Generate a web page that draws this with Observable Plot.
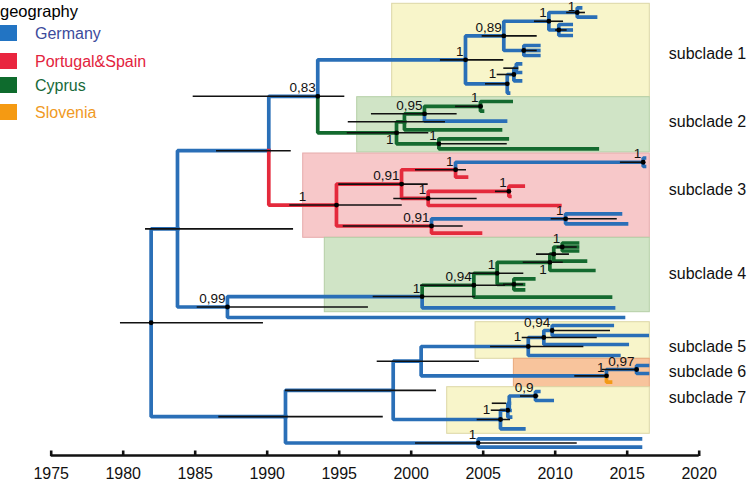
<!DOCTYPE html>
<html><head><meta charset="utf-8">
<script src="https://cdn.jsdelivr.net/npm/d3@7"></script>
<script src="https://cdn.jsdelivr.net/npm/@observablehq/plot@0.6"></script>
<style>
body{margin:0;background:#fff;font-family:"Liberation Sans",Arial,Helvetica,sans-serif;}
#wrap{position:relative;width:750px;height:482px;overflow:hidden;}
#legend{position:absolute;left:0;top:0;width:200px;height:130px;}
#legend .t{position:absolute;font-size:16.5px;color:#000;line-height:1;}
#legend .sw{position:absolute;width:17px;height:16px;}
#legend .lb{position:absolute;font-size:16px;line-height:1;}
</style></head><body>
<div id="wrap"><div id="chart"></div><div id="legend"></div></div>
<script>
// ---- data: [id, parent, year, row (tips), geography, hpdLow, hpdHigh, posterior, labelPos, dot]
const backbone = [
 ["root",null,1981.94,null,null,1979.81,1989.74,"","",1],
 ["A","root",1983.77,null,"G",1981.55,1991.83,"","",0],
 ["A1","A",1990.11,null,"G",1986.48,1991.67,"","",0],
 ["N083","A1",1993.51,null,"G",1984.86,1995.39,"0,83","a",1],
 ["N099","A",1987.24,null,"G",1985.14,1997.03,"0,99","a",1],
 ["t099","N099",2014.74,317,"G"],
 ["B","root",1991.27,null,"G",1986.64,1998.06,"","",0],
 ["B1","B",1998.75,null,"G",1991.27,2001.76,"","",0],
 ["B2","B1",2000.69,null,"G",1997.64,2004.74,"","",0],
 ["Nb","B",2004.65,null,"G",2000.30,2011.53,"1","a",1],
 ["tb1","Nb",2015.92,438.3,"G"],
 ["tb2","Nb",2015.92,446.7,"G"]
];
const clade1 = [
 ["S1","N083",2003.77,null,"G",2002.03,2006.43,"1","a",1],
 ["N089","S1",2006.43,null,"G",2004.93,2008.75,"0,89","a",1],
 ["N1a","N089",2009.56,null,"G",2008.56,2010.58,"1","a",1],
 ["N1c","N1a",2011.53,null,"G",2010.8,2012.1,"1","c",1],
 ["t1","N1c",2011.76,7.3,"G"],["t2","N1c",2012.80,16.7,"G"],
 ["N1d","N1a",2010.25,null,"G",2010.02,2010.83,"","",1],
 ["t3","N1d",2011.11,24,"G"],["t4","N1d",2011.11,29.5,"G"],["t5","N1d",2011.11,35,"G"],
 ["N1b","N089",2007.82,null,"G",2007.71,2008.75,"","",1],
 ["t6","N1b",2008.86,45,"G"],["t7","N1b",2008.86,50,"G"],["t8","N1b",2008.86,55,"G"],
 ["N1L","S1",2006.67,null,"G",2005.16,2006.78,"","",1],
 ["N1e","N1L",2007.13,null,"G",2005.97,2007.24,"1","l",1],
 ["N1f","N1e",2007.3,null,"G",2006.43,2007.47,"","",0],
 ["t9","N1f",2007.59,63.3,"G"],["t10","N1f",2007.59,72,"G"],
 ["t11","N1e",2007.59,80.3,"G"],
 ["t12","N1L",2006.76,92.6,"G"]
];
const clade2 = [
 ["S2","N083",1998.98,null,"C",1995.56,2001.22,"1","b",1],
 ["N2a","S2",1999.53,null,"C",1995.63,2002.38,"","",0],
 ["N095","N2a",2000.92,null,"C",1997.24,2003.19,"0,95","a",1],
 ["N2c","N095",2004.81,null,"C",2003.08,2005.0,"1","a",1],
 ["t13","N2c",2006.94,101,"C"],["t14","N2c",2004.95,110.7,"C"],
 ["t15","N095",2006.55,120.7,"G"],
 ["t16","N2a",2006.2,129.3,"C"],
 ["N2b","S2",2001.92,null,"C",2001.92,2006.67,"1","a",1],
 ["t17","N2b",2006.67,138.3,"C"],["t18","N2b",2012.92,148.3,"C"]
];
const clade3 = [
 ["S3","A1",1994.81,null,"P",1991.57,1999.38,"1","m",1],
 ["N091a","S3",1999.33,null,"P",1994.97,2001.18,"0,91","a",1],
 ["N3a","N091a",2003.08,null,"P",2000.30,2003.84,"1","a",1],
 ["N3c","N3a",2016.11,null,"G",2014.53,2016.04,"1","a",1],
 ["t19","N3c",2016.2,157.5,"G"],["t20","N3c",2016.2,166,"G"],
 ["t21","N3a",2003.84,176.7,"P"],
 ["N3b","N091a",2001.18,null,"P",1998.79,2004.58,"1","a",1],
 ["N3d","N3b",2006.78,null,"P",2005.85,2006.90,"1","a",1],
 ["t22","N3d",2007.78,185.7,"P"],["t23","N3d",2006.85,196,"P"],
 ["t24","N3b",2010.32,205,"P"],
 ["N091b","S3",2001.41,null,"P",1995.28,2003.61,"0,91","a",1],
 ["N3e","N091b",2010.72,null,"G",2009.72,2014.31,"1","a",1],
 ["t25","N3e",2014.53,213.3,"G"],["t26","N3e",2014.95,223.3,"G"],
 ["t27","N091b",2004.81,232.7,"P"]
];
const clade4 = [
 ["S4","N099",2000.76,null,"G",1997.36,2004.47,"1","a",1],
 ["N094b","S4",2004.35,null,"C",2000.65,2006.55,"0,94","a",1],
 ["N4d","N094b",2005.97,null,"C",2004.12,2007.82,"1","a",1],
 ["N4a","N4d",2009.63,null,"C",2007.78,2010.56,"1","b",1],
 ["N4b","N4a",2009.90,null,"C",2008.70,2010.99,"","",1],
 ["N4c","N4b",2010.49,null,"C",2010.14,2011.53,"1","a",1],
 ["t28","N4c",2011.55,242.5,"C"],["t29","N4c",2011.55,246.5,"C"],["t30","N4c",2011.55,250.5,"C"],
 ["t31","N4b",2012.10,260.7,"C"],
 ["t32","N4a",2012.68,270,"C"],
 ["N4e","N4d",2007.13,null,"C",2006.41,2007.80,"","",1],
 ["t33","N4e",2008.51,278.3,"C"],["t34","N4e",2007.80,284,"C"],["t35","N4e",2007.80,289.3,"C"],
 ["t36","N094b",2013.84,296.7,"C"],
 ["t37","S4",2014.05,307.3,"G"]
];
const clade567 = [
 ["S5","B2",2008.13,null,"G",2005.51,2011.99,"","",1],
 ["N5a","S5",2009.21,null,"G",2007.71,2012.92,"1","l",1],
 ["N5b","N5a",2009.79,null,"G",2009.74,2013.84,"0,94","a",1],
 ["t38","N5b",2013.96,325,"G"],["t39","N5b",2016.39,335,"G"],
 ["t40","N5a",2015.0,344,"G"],
 ["t41","S5",2014.42,355,"G"],
 ["S6","B2",2013.56,null,"G",2011.36,2013.61,"1","a",1],
 ["N097","S6",2015.65,null,"G",2013.26,2015.69,"0,97","a",1],
 ["t42","N097",2016.41,365,"G"],["t43","N097",2016.41,373,"G"],
 ["t44","S6",2013.84,381.7,"S"],
 ["S7","B1",2006.20,null,"G",2004.58,2006.90,"","",1],
 ["S7a","S7",2006.71,null,"G",2005.56,2006.55,"1","l",1],
 ["S7b","S7a",2006.81,null,"G",2005.63,2006.62,"","",0],
 ["N09","S7b",2008.63,null,"G",2007.59,2008.86,"0,9","a",1],
 ["t45","N09",2008.86,391,"G"],["t46","N09",2009.79,400,"G"],
 ["t47","S7b",2006.86,410,"G"],
 ["t48","S7a",2006.90,416.7,"G"],
 ["t49","S7",2007.82,428.3,"G"]
];
// subclade boxes
const boxNames = ["subclade 1","subclade 2","subclade 3","subclade 4","subclade 5","subclade 6","subclade 7"];
const boxStart = [1998.68,1996.25,1992.5,1994.0,2004.47,2007.13,2002.5];
const boxEnd = 2016.57;
const boxTop = [3.3,96.7,153,237.3,321.7,358.3,386.7];
const boxBottom = [96.7,152,237.3,311.7,358.3,386.7,433.3];
const boxTint = ["Y","C","P","C","Y","S","Y"];
const boxLabelRow = [53,121,189,273,346,371,397];
// axis
const tickYears = [1975,1980,1985,1990,1995,2000,2005,2010,2015,2020];
const axisRow = 455;
// legend
const geoKeys = ["G","P","C","S"];
const geoNames = ["Germany","Portugal&Spain","Cyprus","Slovenia"];

// ---- styles
const branchColor = {G:"#2a6fb7",P:"#e42a3c",C:"#146a2f",S:"#f39a17"};
const legendTextColor = {G:"#3c4b9c",P:"#e3233d",C:"#17693a",S:"#f09a25"};
const legendSwatch = {G:"#2274c3",P:"#e9253f",C:"#0e6b2d",S:"#f59a12"};
const boxFill = {Y:"#f8f5ca",C:"#d0e4c6",P:"#f7c8c9",S:"#f8c49c"};
const boxStroke = {Y:"#dcd6a6",C:"#b4cfa6",P:"#e6abac",S:"#e8a87c"};

// ---- build tree
const rows = [...backbone,...clade1,...clade2,...clade3,...clade4,...clade567];
const nodes = rows.map(r => ({id:r[0],parent:r[1],t:r[2],row:r[3],geo:r[4],lo:r[5],hi:r[6],label:r[7]||"",pos:r[8]||"",dot:r[9]||0,kids:[]}));
const byId = new Map(nodes.map(n => [n.id,n]));
nodes.forEach(n => { if (n.parent) byId.get(n.parent).kids.push(n); });
function place(n){
  if (n.kids.length === 0) { n.y = n.row; return n.y; }
  const ys = n.kids.map(place);
  n.y = (Math.min(...ys) + Math.max(...ys)) / 2;
  return n.y;
}
place(byId.get("root"));
const links = nodes.filter(n => n.parent).map(n => {
  const p = byId.get(n.parent);
  return {x1:p.t, y1:p.y, x2:n.t, y2:n.y, geo:n.geo};
});
const internal = nodes.filter(n => n.kids.length > 0);
const labelled = internal.filter(n => n.label);
labelled.forEach(n => { if (n.parent) n.pt = byId.get(n.parent).t; });
const boxes = boxNames.map((name,i) => ({name, x1:boxStart[i], x2:boxEnd, y1:boxTop[i], y2:boxBottom[i], tint:boxTint[i], ly:boxLabelRow[i]}));

const font = "'Liberation Sans', Arial, Helvetica, sans-serif";
const marks = [
  Plot.rect(boxes, {x1:"x1", x2:"x2", y1:"y1", y2:"y2", fill:d=>boxFill[d.tint], stroke:d=>boxStroke[d.tint], strokeWidth:1}),
  Plot.text(boxes, {x:"x2", y:"ly", text:"name", textAnchor:"start", dx:19, fontSize:16, fill:"#111"}),
  ...geoKeys.map(g => Plot.link(links.filter(l => l.geo === g), {x1:"x1", y1:"y1", x2:"x2", y2:"y2", curve:"step-before", stroke:branchColor[g], strokeWidth:3.7, strokeLinecap:"square", strokeLinejoin:"miter"})),
  Plot.ruleY(internal, {y:"y", x1:"lo", x2:"hi", stroke:"#111", strokeWidth:1.6}),
  Plot.dot(internal.filter(n => n.dot), {x:"t", y:"y", r:2.4, fill:"#000", stroke:"none"}),
  Plot.text(labelled.filter(n => n.pos === "a"), {x:"t", y:"y", text:"label", textAnchor:"end", lineAnchor:"bottom", dx:-2, dy:-4, fontSize:13.5, fill:"#111"}),
  Plot.text(labelled.filter(n => n.pos === "c"), {x:"t", y:"y", text:"label", textAnchor:"end", lineAnchor:"top", dx:-2, dy:-11, fontSize:13.5, fill:"#111"}),
  Plot.text(labelled.filter(n => n.pos === "b"), {x:"t", y:"y", text:"label", textAnchor:"end", lineAnchor:"top", dx:-3, dy:2, fontSize:13.5, fill:"#111"}),
  Plot.text(labelled.filter(n => n.pos === "l"), {x:"lo", y:"y", text:"label", textAnchor:"end", lineAnchor:"middle", dx:-1, dy:-1, fontSize:13.5, fill:"#111"}),
  Plot.text(labelled.filter(n => n.pos === "m"), {x:d => (d.pt + d.t)/2, y:"y", text:"label", textAnchor:"middle", lineAnchor:"bottom", dy:-4, fontSize:13.5, fill:"#111"}),
  // axis
  Plot.ruleY([axisRow], {y:d=>d, x1:tickYears[0], x2:tickYears[tickYears.length-1], stroke:"#111", strokeWidth:2.6}),
  Plot.ruleX(tickYears, {x:d=>d, y1:axisRow-4.5, y2:axisRow+1, stroke:"#111", strokeWidth:2.6}),
  Plot.text(tickYears, {x:d=>d, y:axisRow+18.5, text:d=>String(d), fontSize:16, fill:"#111"})
];
const chart = Plot.plot({
  width:750, height:482,
  marginTop:0, marginRight:0, marginBottom:0, marginLeft:0,
  x:{domain:[1975,2020], range:[50.7,698.7], axis:null},
  y:{domain:[0,482], range:[0,482], axis:null},
  color:{type:"identity"},
  style:{fontFamily:font, background:"#fff", overflow:"visible"},
  marks
});
document.getElementById("chart").appendChild(chart);

// legend overlay
const lg = document.getElementById("legend");
const title = document.createElement("div");
title.className = "t"; title.textContent = "geography"; title.style.left = "0px"; title.style.top = "3px";
lg.appendChild(title);
const swTop = [25,53,77,104];
geoKeys.forEach((g,i) => {
  const sw = document.createElement("div");
  sw.className = "sw"; sw.style.left = "0px"; sw.style.top = swTop[i] + "px"; sw.style.background = legendSwatch[g];
  lg.appendChild(sw);
  const lb = document.createElement("div");
  lb.className = "lb"; lb.textContent = geoNames[i]; lb.style.left = "35px"; lb.style.top = (swTop[i] + 1) + "px"; lb.style.color = legendTextColor[g];
  lg.appendChild(lb);
});
</script></body></html>
